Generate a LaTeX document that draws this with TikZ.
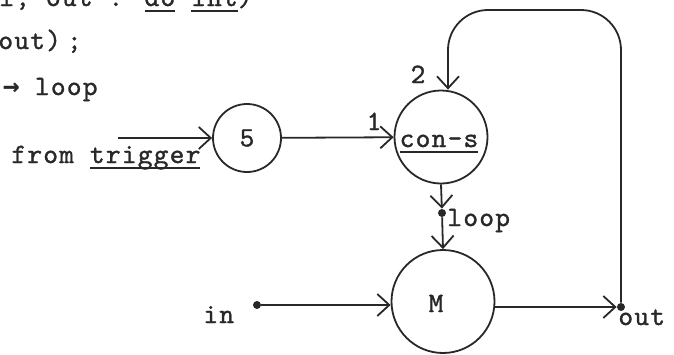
\documentclass[tikz,border=0pt]{standalone}
\usepackage{fontspec}
\newfontfamily\typew{lmmono10-regular}[Extension=.otf,FakeBold=1.2,LetterSpace=4.5]
\newfontfamily\arrowfont{DejaVu Sans Mono}
\usetikzlibrary{arrows.meta}
\definecolor{ink}{RGB}{40,40,40}
\newcommand\myul[1]{\setbox0\hbox{#1}\rlap{\rule[-3pt]{\wd0}{0.9pt}}\box0\relax}
\begin{document}
\begin{tikzpicture}[x=0.5pt,y=-0.5pt,color=ink,
  wire/.style={line width=0.9pt,-{Straight Barb[length=6pt,width=11pt,line width=0.9pt]}},
  ring/.style={circle,draw,line width=0.9pt,inner sep=0pt,font=\typew\fontsize{14}{16}\selectfont},
  lbl/.style={inner sep=0pt,anchor=base west,font=\typew\fontsize{14}{16}\selectfont},
  clbl/.style={inner sep=0pt,anchor=base,font=\typew\fontsize{14}{16}\selectfont},
  pin/.style={circle,fill,inner sep=0pt,minimum size=4pt}]
\useasboundingbox (0,0) rectangle (674,354);
% header text (cut by the frame)
\node[lbl] (t1) at (-1,6) {l; out : \myul{do} \myul{int})};
\node[lbl] (t2) at (-2,49) {out)\kern3pt;};
\node[lbl] (t3) at (3,95) {\makebox[7.8pt]{\arrowfont\bfseries →}\ loop};
% circles
\node[ring,minimum size=34pt] (c5) at (247,138) {5};
\node[ring,minimum size=46.5pt] (cons) at (441,137) {};
\node[clbl] (consT) at (439,147) {\myul{con-s}};
\node[ring,minimum size=51.5pt] (M) at (443,301.5) {};
\node[clbl] (MT) at (436,312) {M};
% labels
\node[lbl] (trig) at (11,163) {from \myul{trigger}};
\node[clbl] (one) at (374,130) {1};
\node[clbl] (two) at (418,83) {2};
\node[lbl] (loopT) at (447,226) {loop};
\node[lbl] (inT) at (203,323) {in};
\node[lbl] (outT) at (618,325) {out};
% points
\coordinate (trigS) at (118,138);
\node[pin] (indot) at (257,305) {};
\node[pin] (outdot) at (621,307) {};
\node[pin] (loopdot) at (442,213) {};
\coordinate (tr) at (621,10);
\coordinate (tl) at (448,10);
% connectors
\draw[wire] (trigS) -- (c5);
\draw[wire] (c5) -- (cons);
\draw[wire] (cons.south) -- (loopdot);
\draw[wire] (loopdot) -- (M.north);
\draw[wire] (indot) -- (indot -| M.west);
\draw[wire] (outdot -| M.east) -- (outdot);
\draw[wire,rounded corners=20pt] (outdot) -- (tr) -- (tl) -- (tl |- cons.north);
\end{tikzpicture}
\end{document}
